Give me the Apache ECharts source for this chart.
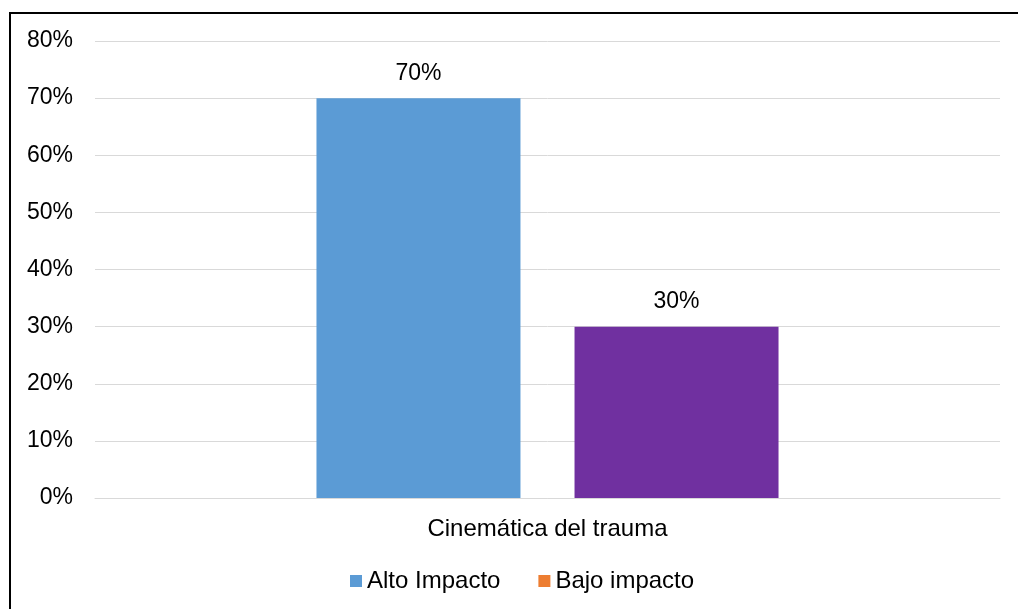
<!DOCTYPE html>
<html>
<head>
<meta charset="utf-8">
<script src="https://cdn.jsdelivr.net/npm/echarts@6/dist/echarts.min.js"></script>
<style>
	html, body { margin: 0; padding: 0; background: #fff; }
	#wrap { position: relative; width: 1018px; height: 609px; overflow: hidden; }
	#chart { width: 1018px; height: 609px; }
	#frame {
		position: absolute; left: 9px; top: 12px; width: 1100px; height: 700px;
		border-left: 2px solid #000; border-top: 2px solid #000; pointer-events: none;
	}
</style>
</head>
<body>
<div id="wrap">
	<div id="chart"></div>
	<div id="frame"></div>
</div>
<script>
	var categories = ['Cinemática del trauma'];
	var seriesNames = ['Alto Impacto', 'Bajo impacto'];
	var altoImpacto = [70];
	var bajoImpacto = [30];
	var yTicks = [0, 10, 20, 30, 40, 50, 60, 70, 80];

	var font = 'Liberation Sans, Arial, sans-serif';
	var myChart = echarts.init(document.getElementById('chart'));

	var option = {
		animation: false,
		textStyle: { fontFamily: font },
		legend: {
			data: seriesNames,
			top: 564,
			left: 345,
			itemWidth: 12,
			itemHeight: 12,
			itemGap: 38,
			icon: 'rect',
			textStyle: { fontSize: 24, color: '#000', fontFamily: font }
		},
		grid: { left: 95, right: 18, top: 41, bottom: 111 },
		xAxis: {
			type: 'category',
			data: categories,
			axisLine: { lineStyle: { color: '#d9d9d9', width: 1 } },
			axisTick: { show: false },
			axisLabel: { fontSize: 24, color: '#000', margin: 19, fontFamily: font }
		},
		yAxis: {
			type: 'value',
			min: yTicks[0],
			max: yTicks[yTicks.length - 1],
			interval: 10,
			axisLine: { show: false },
			axisTick: { show: false },
			splitLine: { lineStyle: { color: '#d9d9d9', width: 1 } },
			axisLabel: { fontSize: 23, color: '#000', margin: 22, formatter: '{value}%', fontFamily: font }
		},
		series: [
			{
				name: seriesNames[0],
				type: 'bar',
				data: altoImpacto,
				barWidth: 204,
				barGap: '26.5%',
				itemStyle: { color: '#5b9bd5' },
				label: { show: true, position: 'top', distance: 13, formatter: '{c}%', fontSize: 23, color: '#000', fontFamily: font }
			},
			{
				name: seriesNames[1],
				type: 'bar',
				// the bar itself is purple, the legend keeps the orange series colour
				data: bajoImpacto.map(function (v) { return { value: v, itemStyle: { color: '#7030a0' } }; }),
				barWidth: 204,
				itemStyle: { color: '#ed7d31' },
				label: { show: true, position: 'top', distance: 13, formatter: '{c}%', fontSize: 23, color: '#000', fontFamily: font }
			}
		]
	};
	myChart.setOption(option);
</script>
</body>
</html>
